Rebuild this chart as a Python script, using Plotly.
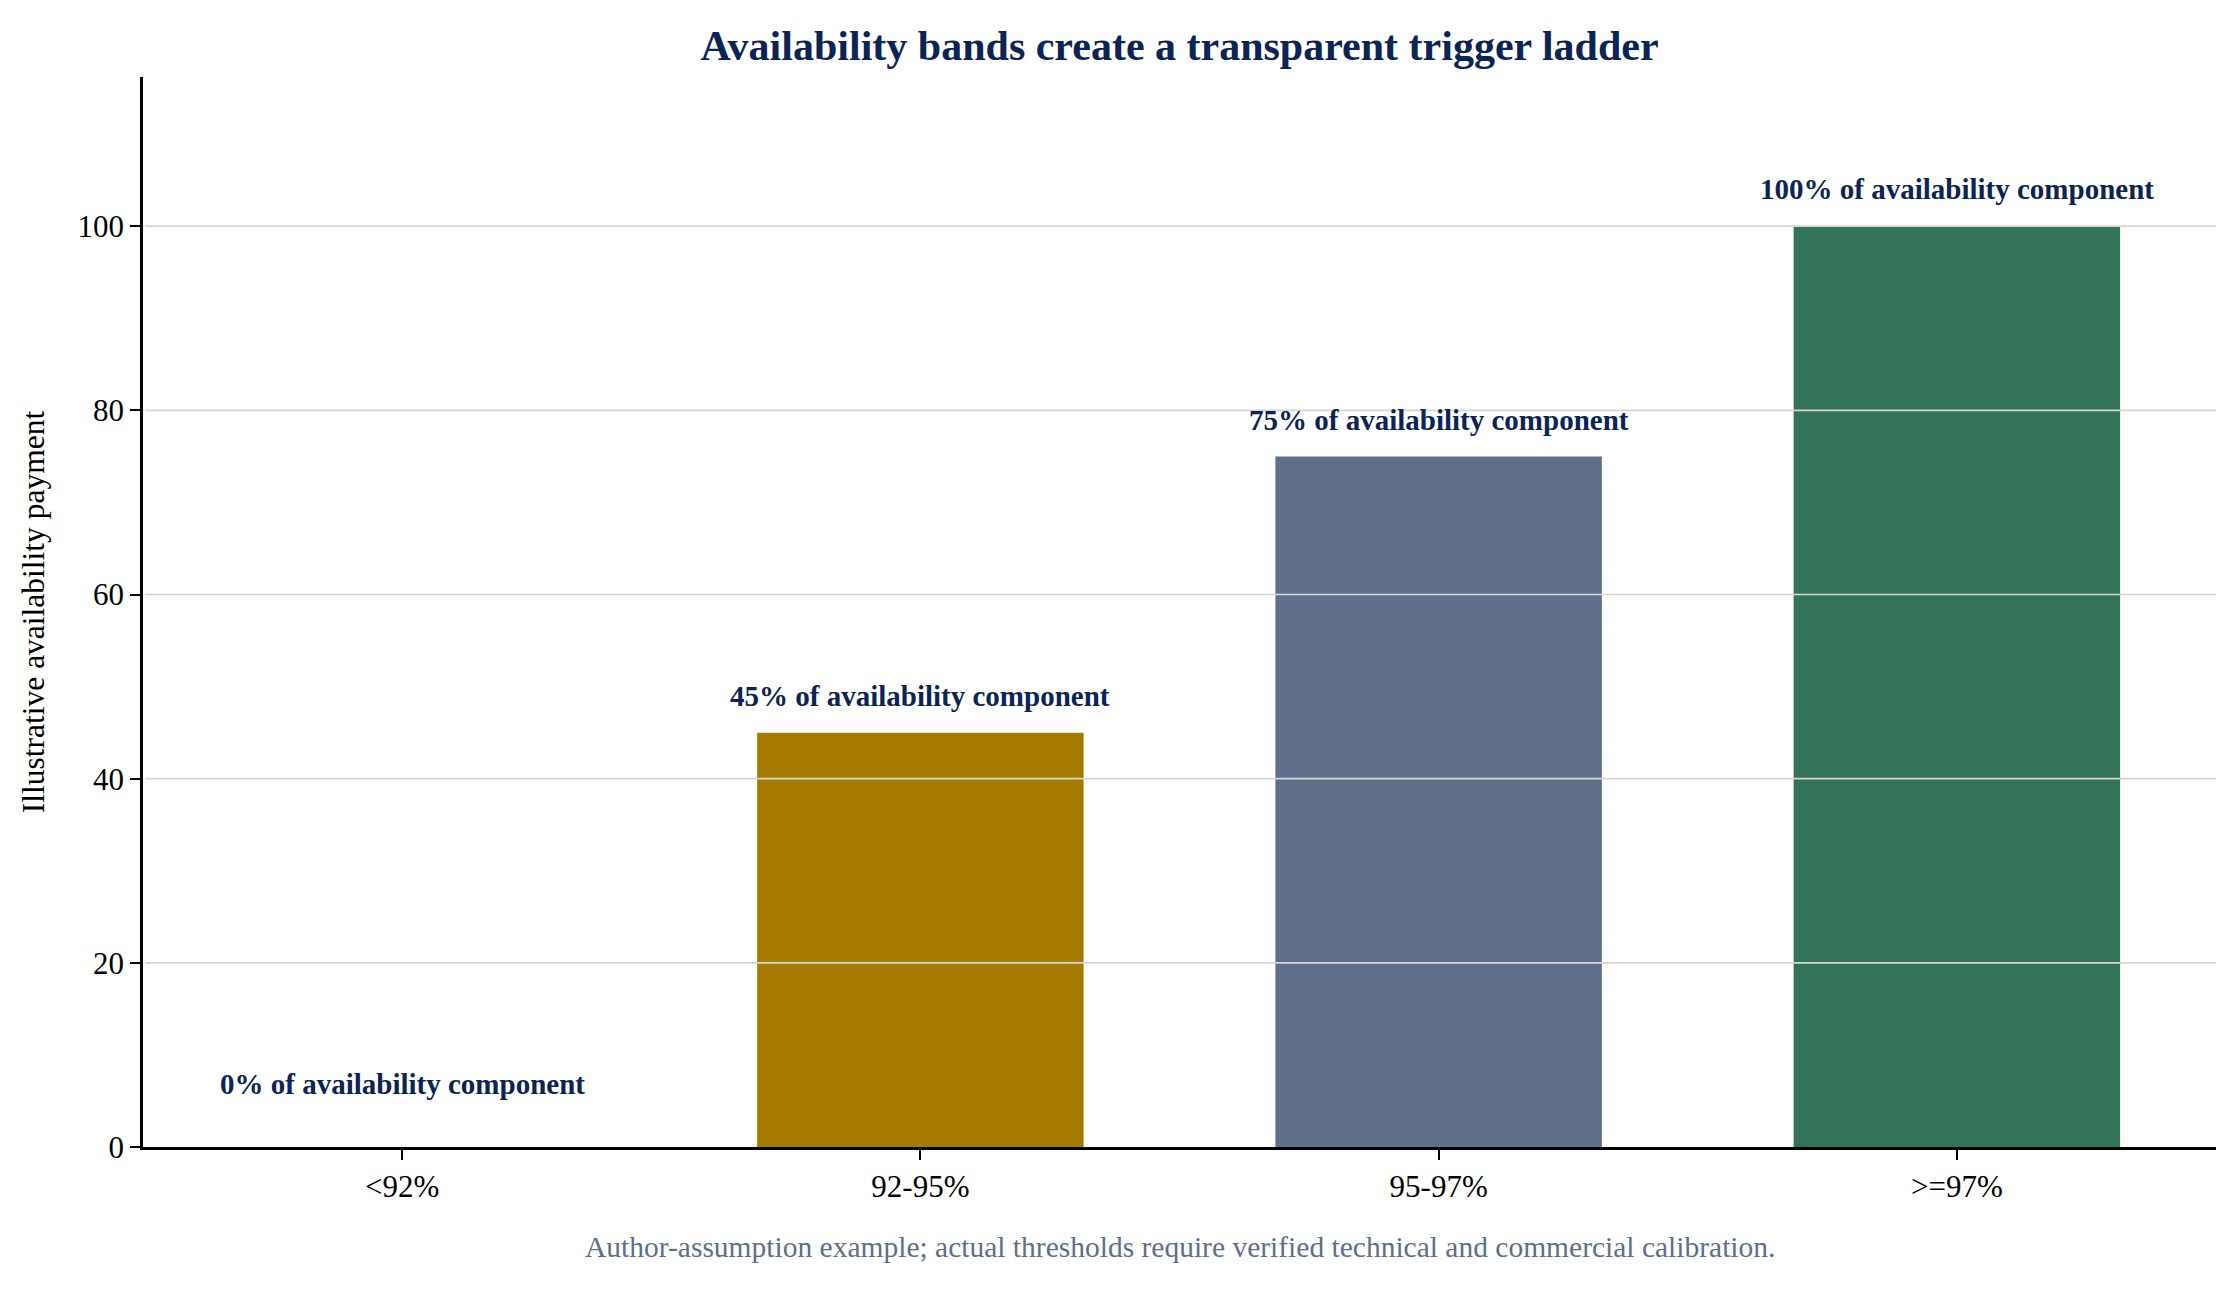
import plotly.graph_objects as go

bands = ["<92%", "92-95%", "95-97%", ">=97%"]
payment = [0, 45, 75, 100]
bar_colors = ["#b5473a", "#a67c00", "#5f6f89", "#337459"]
labels = [f"{v}% of availability component" for v in payment]
y_ticks = [0, 20, 40, 60, 80, 100]

navy = "#0b2454"
serif = "Liberation Serif, Times New Roman, serif"

fig = go.Figure()
fig.add_trace(go.Bar(
    x=bands, y=payment,
    marker=dict(color=bar_colors, line=dict(width=0)),
    width=0.63,
    showlegend=False,
))

# value labels above each bar
for band, v, txt in zip(bands, payment, labels):
    fig.add_annotation(
        x=band, y=max(v, 2.8) + 4, text=f"<b>{txt}</b>",
        showarrow=False, yanchor="middle",
        font=dict(family=serif, size=29, color=navy),
    )

# matplotlib-style grid drawn over the bars
for t in y_ticks[1:]:
    fig.add_shape(
        type="line", xref="paper", yref="y", x0=0.001, x1=1, y0=t, y1=t,
        line=dict(color="#d6d6d6", width=1.6), layer="above",
    )

fig.add_annotation(
    xref="paper", yref="paper", x=0.5, y=-0.0935, yanchor="middle",
    text="Author-assumption example; actual thresholds require verified technical and commercial calibration.",
    showarrow=False, font=dict(family=serif, size=29.5, color="#5f6f8a"),
)

fig.update_layout(
    width=2229, height=1316,
    margin=dict(l=135, r=21, t=69, b=177),
    plot_bgcolor="white", paper_bgcolor="white",
    font=dict(family=serif, size=31, color="black"),
    title=dict(
        text="<b>Availability bands create a transparent trigger ladder</b>",
        x=0.5, xref="paper", y=1 - 37.5 / 1316, yref="container", yanchor="middle",
        font=dict(family=serif, size=42, color=navy),
    ),
)
fig.update_xaxes(
    range=[-0.5, 3.5], showgrid=False, showline=True, linecolor="black", linewidth=2.6,
    ticks="outside", ticklen=10, tickwidth=2.2, tickcolor="black",
    tickfont=dict(family=serif, size=31, color="black"),
)
fig.update_yaxes(
    range=[0, 116.2], tickvals=y_ticks, showgrid=False, zeroline=False,
    showline=True, linecolor="black", linewidth=2.6,
    ticks="outside", ticklen=10, tickwidth=2.2, tickcolor="black",
    tickfont=dict(family=serif, size=31, color="black"),
    title=dict(text="Illustrative availability payment", standoff=24,
               font=dict(family=serif, size=31.5, color="black")),
)

fig.write_html("out.html")
